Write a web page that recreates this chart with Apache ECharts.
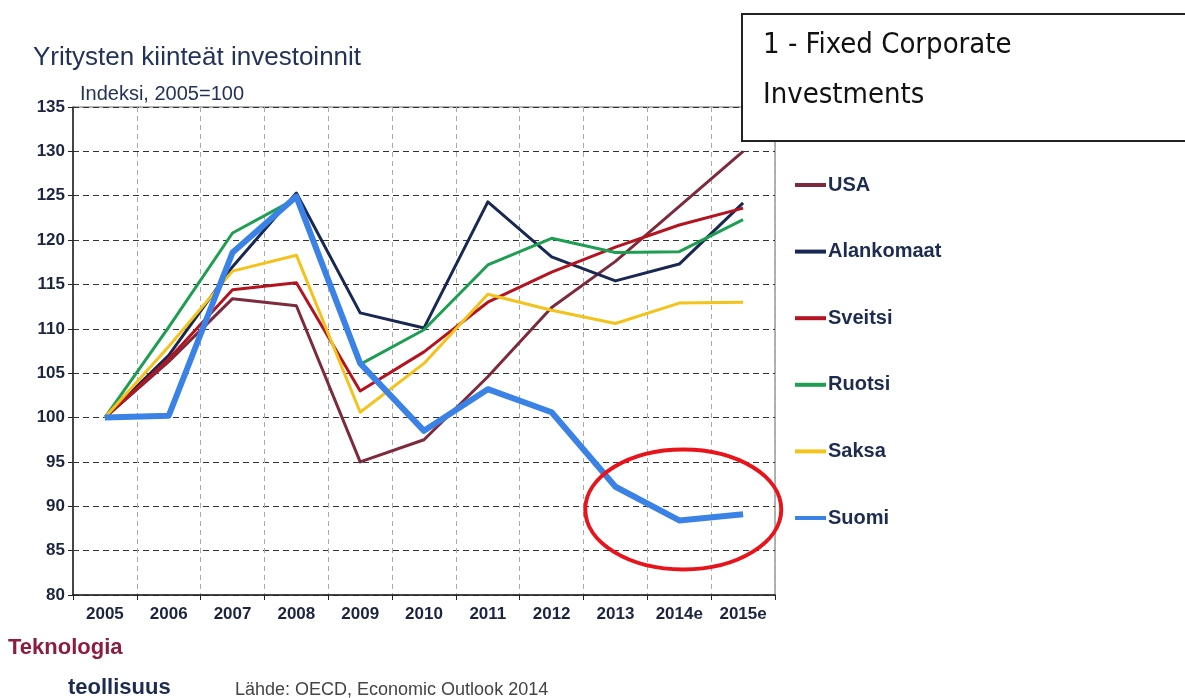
<!DOCTYPE html>
<html>
<head>
    <meta charset="utf-8">
    <title>Yritysten kiinteät investoinnit</title>
    <script src="https://cdn.jsdelivr.net/npm/echarts@6/dist/echarts.min.js"></script>
    <style>
        html, body { margin: 0; padding: 0; background: #fff; }
        #main { width: 1185px; height: 698px; }
    </style>
</head>
<body>
    <div id="main"></div>
    <script>
        // vuodet (x-akseli)
        var years = ['2005', '2006', '2007', '2008', '2009', '2010', '2011', '2012', '2013', '2014e', '2015e'];
        var yTicks = [80, 85, 90, 95, 100, 105, 110, 115, 120, 125, 130, 135];

        // indeksisarjat, 2005=100
        var usa        = [100, 106.3, 113.4, 112.6, 95.0, 97.5, 104.6, 112.4, 117.6, 123.8, 130.0];
        var alankomaat = [100, 107.0, 117.0, 125.3, 111.8, 110.1, 124.3, 118.1, 115.4, 117.3, 124.2];
        var sveitsi    = [100, 106.6, 114.4, 115.2, 103.0, 107.4, 113.0, 116.4, 119.2, 121.7, 123.6];
        var ruotsi     = [100, 110.2, 120.8, 124.7, 106.0, 109.9, 117.2, 120.2, 118.6, 118.7, 122.3];
        var saksa      = [100, 108.0, 116.5, 118.3, 100.6, 106.1, 113.9, 112.1, 110.6, 112.9, 113.0];
        var suomi      = [100, 100.2, 118.6, 124.9, 106.1, 98.5, 103.2, 100.6, 92.2, 88.4, 89.1];

        var chart = echarts.init(document.getElementById('main'));

        function line(name, data, color, width) {
            return {
                name: name,
                type: 'line',
                data: data,
                symbol: 'none',
                animation: false,
                lineStyle: { color: color, width: width, join: 'round' },
                itemStyle: { color: color }
            };
        }

        var option = {
            backgroundColor: '#fff',
            animation: false,
            title: {
                text: 'Yritysten kiinteät investoinnit',
                left: 28,
                top: 40,
                textStyle: { fontFamily: 'Liberation Sans', fontSize: 26, fontWeight: 'normal', color: '#233358' }
            },
            grid: {
                left: 73, right: 410, top: 107, bottom: 103,
                show: true, borderColor: '#666', borderWidth: 1
            },
            legend: {
                orient: 'vertical',
                left: 790,
                top: 170,
                icon: 'rect',
                itemWidth: 31,
                itemHeight: 4,
                itemGap: 46.6,
                selectedMode: false,
                textStyle: { fontFamily: 'Liberation Sans', fontSize: 20, fontWeight: 'bold', color: '#1c2b4f', padding: [0, 0, 0, -3] },
                data: ['USA', 'Alankomaat', 'Sveitsi', 'Ruotsi', 'Saksa', 'Suomi']
            },
            xAxis: {
                type: 'category',
                data: years,
                boundaryGap: true,
                axisLine: { lineStyle: { color: '#222', width: 1.5 } },
                axisTick: { show: true, length: 5, lineStyle: { color: '#222' } },
                axisLabel: { fontFamily: 'Liberation Sans', fontSize: 17, fontWeight: 'bold', color: '#1c2540', margin: 11 },
                splitLine: { show: true, lineStyle: { color: '#aaa', type: [5, 4], width: 1 } }
            },
            yAxis: {
                type: 'value',
                min: yTicks[0],
                max: yTicks[yTicks.length - 1],
                interval: 5,
                axisLine: { show: true, lineStyle: { color: '#222', width: 1.5 } },
                axisTick: { show: true, length: 5, inside: false, lineStyle: { color: '#222' } },
                axisLabel: { fontFamily: 'Liberation Sans', fontSize: 17, fontWeight: 'bold', color: '#1c2540', margin: 8 },
                splitLine: { show: true, lineStyle: { color: '#333', type: [6, 4], width: 1 } }
            },
            series: [
                line('USA', usa, '#7d2b3c', 3),
                line('Alankomaat', alankomaat, '#182853', 3),
                line('Sveitsi', sveitsi, '#b3141f', 3),
                line('Ruotsi', ruotsi, '#1d9e52', 3),
                line('Saksa', saksa, '#f3c21b', 3),
                line('Suomi', suomi, '#3a82e6', 6)
            ]
        };
        chart.setOption(option);

        // punainen ellipsi 2014e-kohdan ympärille
        var c = chart.convertToPixel({ gridIndex: 0 }, ['2014e', suomi[9]]);

        chart.setOption({
            graphic: [
                {
                    type: 'text', left: 80, top: 84,
                    style: { text: 'Indeksi, 2005=100', font: '20px "Liberation Sans"', fill: '#233358' }
                },
                {
                    type: 'ellipse', z: 50,
                    shape: { cx: c[0] + 4, cy: c[1] - 11, rx: 98, ry: 60 },
                    style: { fill: 'none', stroke: '#e8141b', lineWidth: 4 }
                },
                {
                    type: 'rect', z: 60,
                    shape: { x: 742, y: 14, width: 450, height: 127 },
                    style: { fill: '#fff', stroke: '#222', lineWidth: 2 }
                },
                {
                    type: 'text', z: 61, left: 763, top: 31,
                    style: { text: '1 - Fixed Corporate', font: '29px "DejaVu Sans Condensed", "DejaVu Sans"', fill: '#111' }
                },
                {
                    type: 'text', z: 61, left: 763, top: 81,
                    style: { text: 'Investments', font: '29px "DejaVu Sans Condensed", "DejaVu Sans"', fill: '#111' }
                },
                {
                    type: 'text', left: 8, top: 637,
                    style: { text: 'Teknologia', font: 'bold 22px "Liberation Sans"', fill: '#8c1d3e' }
                },
                {
                    type: 'text', left: 68, top: 677,
                    style: { text: 'teollisuus', font: 'bold 22px "Liberation Sans"', fill: '#1c2b4f' }
                },
                {
                    type: 'text', left: 235, top: 681,
                    style: { text: 'Lähde: OECD, Economic Outlook 2014', font: '18px "Liberation Sans"', fill: '#444' }
                }
            ]
        });
    </script>
</body>
</html>
